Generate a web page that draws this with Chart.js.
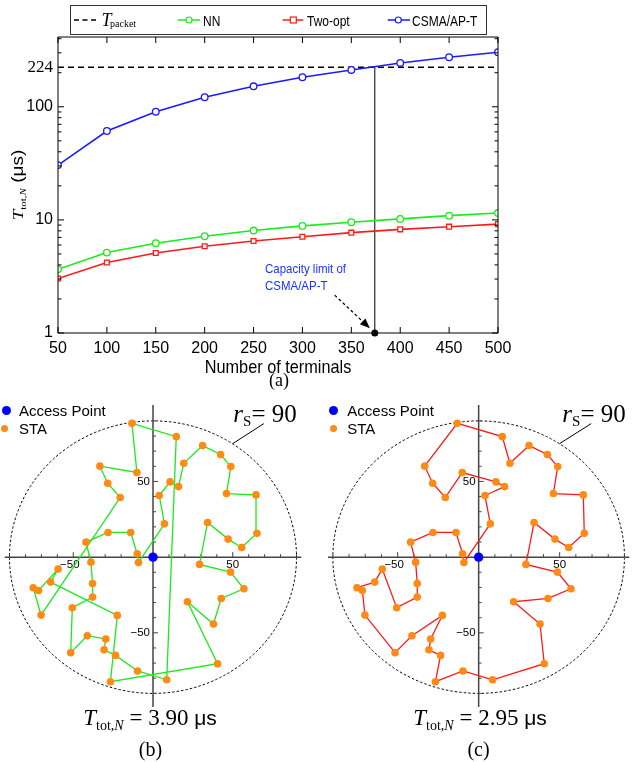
<!DOCTYPE html>
<html>
<head>
<meta charset="utf-8">
<script src="https://cdn.jsdelivr.net/npm/chart.js@4.4.1/dist/chart.umd.min.js"></script>
<style>
  body { margin: 0; background: #fff; }
  #page { position: relative; width: 634px; height: 762px; overflow: hidden; font-family: "Liberation Sans", Arial, sans-serif; color: #000; }
  canvas { position: absolute; }
  .t { position: absolute; line-height: 1; white-space: nowrap; }
  .t span { line-height: 0; }
  .serif { font-family: "Liberation Serif", "Times New Roman", serif; }
  .it { font-style: italic; }
  .dot { position: absolute; border-radius: 50%; }
</style>
</head>
<body>
<div id="page">
  <canvas id="chartA" width="634" height="390" style="left:0;top:0"></canvas>
  <canvas id="chartB" width="314" height="367" style="left:0;top:395px"></canvas>
  <canvas id="chartC" width="320" height="367" style="left:314px;top:395px"></canvas>

  <!-- legend of (a) -->
  <div style="position:absolute;left:70px;top:5px;width:415px;height:28px;border:1px solid #333;"></div>
  <svg style="position:absolute;left:0;top:0" width="634" height="40">
    <line x1="74" y1="20" x2="97" y2="20" stroke="#000" stroke-width="1.5" stroke-dasharray="5 3.5"/>
    <line x1="177.7" y1="20" x2="200" y2="20" stroke="#1aeb1a" stroke-width="1.5"/>
    <circle cx="189" cy="20" r="3" fill="#fff" stroke="#1aeb1a" stroke-width="1.2"/>
    <line x1="282.7" y1="20" x2="303.3" y2="20" stroke="#ff1a1a" stroke-width="1.5"/>
    <rect x="290.3" y="17" width="6" height="6" fill="#fff" stroke="#ff1a1a" stroke-width="1.2"/>
    <line x1="387.7" y1="20" x2="410" y2="20" stroke="#1a1aff" stroke-width="1.5"/>
    <circle cx="398.3" cy="20" r="3" fill="#fff" stroke="#1a1aff" stroke-width="1.2"/>
  </svg>
  <div class="t serif it" style="left:101.5px;top:11.4px;font-size:18px;">T</div>
  <div class="t serif" style="left:110px;top:19.1px;font-size:10px;">packet</div>
  <div class="t" style="left:203px;top:13px;font-size:15px;transform:scaleX(0.8);transform-origin:0 0;">NN</div>
  <div class="t" style="left:306.7px;top:13px;font-size:15px;transform:scaleX(0.8);transform-origin:0 0;">Two-opt</div>
  <div class="t" style="left:412.3px;top:13px;font-size:15px;transform:scaleX(0.8);transform-origin:0 0;">CSMA/AP-T</div>

  <!-- titles of (a) -->
  <div class="t" style="left:-21px;top:174px;width:80px;height:22px;line-height:22px;text-align:center;transform:rotate(-90deg) scaleY(0.82);transform-origin:50% 50%;">
    <span class="serif it" style="font-size:19px;">T</span><span class="serif" style="font-size:11px;vertical-align:-3px;">tot,<i>N</i></span><span style="font-size:19px;"> (μs)</span>
  </div>
  <div class="t" style="left:128px;top:358px;width:300px;text-align:center;font-size:18.5px;transform:scaleX(0.88);">Number of terminals</div>
  <div class="t serif" style="left:229px;top:371px;width:100px;text-align:center;font-size:18px;">(a)</div>
  <div class="t" style="left:265px;top:261px;font-size:13.5px;line-height:16.7px;color:#1a33ff;transform:scaleX(0.85);transform-origin:0 0;">Capacity limit of<br>CSMA/AP-T</div>

  <!-- legends of (b) and (c) -->
  <div class="dot" style="left:1.5px;top:406.2px;width:9px;height:9px;background:#0000ff;"></div>
  <div class="dot" style="left:0.8px;top:424.8px;width:7px;height:7px;background:#ff8a14;"></div>
  <div class="t" style="left:19px;top:403px;font-size:15px;">Access Point</div>
  <div class="t" style="left:19px;top:420.6px;font-size:15px;">STA</div>
  <div class="dot" style="left:328.8px;top:406.2px;width:9px;height:9px;background:#0000ff;"></div>
  <div class="dot" style="left:329.8px;top:424.8px;width:7px;height:7px;background:#ff8a14;"></div>
  <div class="t" style="left:347.3px;top:403px;font-size:15px;">Access Point</div>
  <div class="t" style="left:347.3px;top:420.6px;font-size:15px;">STA</div>

  <div class="t serif" style="left:233.3px;top:400.8px;font-size:25px;"><i>r</i><span style="font-size:15px;vertical-align:-4px;">S</span>= 90</div>
  <div class="t serif" style="left:562.3px;top:400.8px;font-size:25px;"><i>r</i><span style="font-size:15px;vertical-align:-4px;">S</span>= 90</div>

  <!-- captions of (b) and (c) -->
  <div class="t serif" style="left:0;top:706.4px;width:300px;text-align:center;font-size:23px;">
    <i>T</i><span style="font-size:14px;vertical-align:-5px;">tot,<i>N</i></span> = 3.90 <span style="font-family:'Liberation Sans',Arial,sans-serif;font-size:21px;">μs</span>
  </div>
  <div class="t serif" style="left:0;top:738.8px;width:301px;text-align:center;font-size:20px;">(b)</div>
  <div class="t serif" style="left:330px;top:706.4px;width:300px;text-align:center;font-size:23px;">
    <i>T</i><span style="font-size:14px;vertical-align:-5px;">tot,<i>N</i></span> = 2.95 <span style="font-family:'Liberation Sans',Arial,sans-serif;font-size:21px;">μs</span>
  </div>
  <div class="t serif" style="left:328px;top:738.8px;width:301px;text-align:center;font-size:20px;">(c)</div>
</div>

<script>
// (a) total time vs number of terminals
const terminals = [50, 100, 150, 200, 250, 300, 350, 400, 450, 500];
const nnTime = [3.66, 5.14, 6.22, 7.17, 8.05, 8.85, 9.54, 10.2, 10.9, 11.5];
const twoOptTime = [3.03, 4.2, 5.1, 5.84, 6.5, 7.1, 7.71, 8.25, 8.71, 9.18];
const csmaTime = [30.5, 61.1, 90.5, 121.4, 151.8, 182.5, 211.6, 244.2, 274.2, 303.6];
const packetTime = 224;
const capacityLimit = 374;
const yTickValues = [1, 2, 3, 4, 5, 6, 7, 8, 9, 10, 20, 30, 40, 50, 60, 70, 80, 90, 100, 200, 224, 300, 400];
const yTickLabels = [1, 10, 100, 224];
const arrowStart = [333, 2.16];
const arrowEnd = [369, 1.1];

// (b), (c) station layout and tours
const apPosition = [0, 0];
const staX = [-13.2, 14.6, -10.1, -33.3, -28.4, -20.6, -42.0, -28.2, -14.0, -9.9,
              -9.1, -38.9, -59.5, 7.2, 3.9, 10.7, 16.0, 19.3, 31.1, 42.4,
              48.8, 46.1, 64.6, 65.2, 55.6, 47.1, 34.2, 29.2, 48.6, -64.2,
              -75.1, -71.8, -70.2, -37.9, -37.9, -50.6, -51.6, -41.2, -29.6, -30.7,
              -23.5, -9.7, 8.6, -26.7, -22.4, 40.5, 21.6, 37.9, 42.8, 57.0];
const staY = [88.4, 79.6, 55.9, 60.1, 48.8, 39.4, 9.9, 16.3, 16.3, 2.2,
              -3.5, -3.3, -7.9, 22.0, 40.7, 49.7, 46.6, 62.0, 73.7, 67.8,
              59.8, 42.0, 41.1, 15.8, 6.4, 11.9, 22.9, -4.8, -9.9, -16.5,
              -20.2, -22.0, -38.3, -17.4, -26.4, -33.4, -63.1, -51.9, -54.1, -61.2,
              -64.9, -75.2, -81.0, -82.3, -38.5, -70.4, -29.5, -44.2, -27.3, -20.9];
const nnTour = [13, 10, 9, 8, 7, 6, 11, 33, 34, 35, 36, 37, 38, 39, 40, 41, 42, 1, 0, 2,
                3, 4, 5, 32, 30, 31, 12, 29, 44, 43, 45, 46, 47, 48, 49, 28, 27, 26, 25, 24,
                23, 22, 21, 20, 19, 18, 17, 16, 15, 14];
const twoOptTour = [36, 32, 31, 30, 29, 12, 35, 34, 33, 11, 6, 7, 8, 9, 10, 13, 14, 16, 15, 2,
                    5, 4, 3, 0, 1, 17, 18, 19, 20, 21, 22, 23, 24, 25, 26, 27, 28, 49, 48, 46,
                    47, 45, 42, 41, 43, 40, 39, 38, 44, 37];
const serviceRadius = 90;
const axisTicks = [-90, -80, -70, -60, -50, -40, -30, -20, -10, 10, 20, 30, 40, 50, 60, 70, 80, 90];
const axisLabels = [-50, 50];
const rsLeader = [[50, 75], [69.5, 88.2]];

const GREEN = '#1aeb1a', RED = '#ff1a1a', BLUE = '#1a1aff';

// frame, inward ticks and the capacity arrow for (a)
const frameA = {
    id: 'frameA',
    afterDraw(chart) {
        const { ctx, chartArea: a, scales: { x, y } } = chart;
        ctx.save();
        ctx.strokeStyle = '#000';
        ctx.lineWidth = 1;
        ctx.beginPath();
        ctx.rect(a.left, a.top, a.right - a.left, a.bottom - a.top);
        terminals.forEach(t => {
            const px = x.getPixelForValue(t);
            ctx.moveTo(px, a.bottom); ctx.lineTo(px, a.bottom - 6);
            ctx.moveTo(px, a.top); ctx.lineTo(px, a.top + 6);
        });
        yTickValues.forEach(v => {
            if (v === packetTime) return;
            const py = y.getPixelForValue(v);
            const len = yTickLabels.includes(v) ? 6 : 3.5;
            ctx.moveTo(a.left, py); ctx.lineTo(a.left + len, py);
            ctx.moveTo(a.right, py); ctx.lineTo(a.right - len, py);
        });
        ctx.stroke();

        const x0 = x.getPixelForValue(arrowStart[0]), y0 = y.getPixelForValue(arrowStart[1]);
        const x1 = x.getPixelForValue(arrowEnd[0]), y1 = y.getPixelForValue(arrowEnd[1]);
        const ang = Math.atan2(y1 - y0, x1 - x0);
        const c = Math.cos(ang), s = Math.sin(ang);
        ctx.setLineDash([3, 2.5]);
        ctx.lineWidth = 1.2;
        ctx.beginPath();
        ctx.moveTo(x0, y0);
        ctx.lineTo(x1 - 7 * c, y1 - 7 * s);
        ctx.stroke();
        ctx.setLineDash([]);
        ctx.fillStyle = '#000';
        ctx.beginPath();
        ctx.moveTo(x1, y1);
        ctx.lineTo(x1 - 10 * c + 4 * s, y1 - 10 * s - 4 * c);
        ctx.lineTo(x1 - 10 * c - 4 * s, y1 - 10 * s + 4 * c);
        ctx.closePath();
        ctx.fill();
        ctx.restore();
    }
};

const series = (ys) => terminals.map((t, i) => ({ x: t, y: ys[i] }));

new Chart(document.getElementById('chartA'), {
    type: 'line',
    data: {
        datasets: [
            { label: 'CSMA/AP-T', data: series(csmaTime), borderColor: BLUE, borderWidth: 1.6,
              pointRadius: 3.3, pointBorderWidth: 1.3, pointBorderColor: BLUE, pointBackgroundColor: '#fff' },
            { label: 'Two-opt', data: series(twoOptTime), borderColor: RED, borderWidth: 1.6, pointStyle: 'rect',
              pointRadius: 3.4, pointBorderWidth: 1.3, pointBorderColor: RED, pointBackgroundColor: '#fff' },
            { label: 'NN', data: series(nnTime), borderColor: GREEN, borderWidth: 1.6,
              pointRadius: 3.3, pointBorderWidth: 1.3, pointBorderColor: GREEN, pointBackgroundColor: '#fff' },
            { label: 'T_packet', data: [{ x: terminals[0], y: packetTime }, { x: terminals[terminals.length - 1], y: packetTime }],
              borderColor: '#000', borderWidth: 1.5, borderDash: [6, 4], pointRadius: 0 },
            { label: 'capacity', data: [{ x: capacityLimit, y: 1 }, { x: capacityLimit, y: packetTime }],
              borderColor: '#000', borderWidth: 1, clip: false,
              pointRadius: [3.5, 0], pointBackgroundColor: '#000', pointBorderWidth: 0 }
        ]
    },
    options: {
        responsive: false,
        animation: false,
        layout: { padding: { left: 0, top: 37, right: 136, bottom: 0 } },
        plugins: { legend: { display: false }, tooltip: { enabled: false } },
        scales: {
            x: {
                type: 'linear', min: 50, max: 500,
                grid: { display: false, drawTicks: false },
                border: { display: false },
                ticks: { stepSize: 50, autoSkip: false, maxRotation: 0, padding: 6, color: '#000',
                         font: { family: 'Liberation Sans', size: 16 } },
                afterFit(s) { s.height = 57; }
            },
            y: {
                type: 'logarithmic', min: 1, max: 414,
                grid: { display: false, drawTicks: false },
                border: { display: false },
                afterBuildTicks(s) { s.ticks = yTickValues.map(v => ({ value: v })); },
                ticks: {
                    autoSkip: false, padding: 5, color: '#000',
                    callback: (v) => yTickLabels.includes(v) ? String(v) : '',
                    font: (c) => (c.tick && c.tick.value === packetTime)
                        ? { family: 'Liberation Serif', size: 17 }
                        : { family: 'Liberation Sans', size: 16 }
                },
                afterFit(s) { s.width = 58; }
            }
        }
    },
    plugins: [frameA]
});

// circle, axes through the access point and the r_S leader for (b) and (c)
const polarAxes = {
    id: 'polarAxes',
    beforeDatasetsDraw(chart) {
        const { ctx, chartArea: a, scales: { x, y } } = chart;
        const x0 = x.getPixelForValue(0), y0 = y.getPixelForValue(0);
        ctx.save();
        ctx.strokeStyle = '#000';
        ctx.lineWidth = 1;
        ctx.setLineDash([2.5, 2]);
        ctx.beginPath();
        ctx.ellipse(x0, y0, x.getPixelForValue(serviceRadius) - x0, y0 - y.getPixelForValue(serviceRadius), 0, 0, 2 * Math.PI);
        ctx.stroke();
        ctx.setLineDash([]);

        ctx.beginPath();
        ctx.moveTo(x.getPixelForValue(rsLeader[0][0]), y.getPixelForValue(rsLeader[0][1]));
        ctx.lineTo(x.getPixelForValue(rsLeader[1][0]), y.getPixelForValue(rsLeader[1][1]));
        ctx.stroke();

        ctx.strokeStyle = '#444';
        ctx.lineWidth = 1.5;
        ctx.beginPath();
        ctx.moveTo(a.left, y0); ctx.lineTo(a.right, y0);
        ctx.moveTo(x0, a.top); ctx.lineTo(x0, a.bottom);
        ctx.stroke();

        ctx.lineWidth = 1;
        ctx.beginPath();
        axisTicks.forEach(v => {
            const len = axisLabels.includes(v) ? 5 : 3;
            const px = x.getPixelForValue(v), py = y.getPixelForValue(v);
            ctx.moveTo(px, y0); ctx.lineTo(px, y0 - len);
            ctx.moveTo(x0, py); ctx.lineTo(x0 + len, py);
        });
        ctx.stroke();

        ctx.fillStyle = '#000';
        ctx.font = '11.5px "Liberation Sans"';
        ctx.textBaseline = 'middle';
        axisLabels.forEach(v => {
            const txt = v < 0 ? '\u2212' + Math.abs(v) : String(v);
            ctx.textAlign = 'center';
            ctx.fillText(txt, x.getPixelForValue(v) + (v < 0 ? -3.5 : 0), y0 + 8);
            ctx.textAlign = 'right';
            ctx.fillText(txt, x0 - 3, y.getPixelForValue(v));
        });
        ctx.restore();
    }
};

function tourChart(id, tour, color, padding) {
    const path = tour.concat(tour[0]).map(i => ({ x: staX[i], y: staY[i] }));
    return new Chart(document.getElementById(id), {
        type: 'scatter',
        data: {
            datasets: [
                { label: 'Access Point', data: [{ x: apPosition[0], y: apPosition[1] }],
                  pointRadius: 4.7, backgroundColor: '#0000ff', borderWidth: 0 },
                { label: 'STA', data: staX.map((v, i) => ({ x: v, y: staY[i] })),
                  pointRadius: 3.8, backgroundColor: '#ff8a14', borderWidth: 0 },
                { label: 'tour', data: path, showLine: true, pointRadius: 0,
                  borderColor: color, borderWidth: 1.3 }
            ]
        },
        options: {
            responsive: false,
            animation: false,
            layout: { padding },
            plugins: { legend: { display: false }, tooltip: { enabled: false } },
            scales: {
                x: { type: 'linear', min: -93, max: 93, display: false },
                y: { type: 'linear', min: -99, max: 100.5, display: false }
            }
        },
        plugins: [polarAxes]
    });
}

tourChart('chartB', nnTour, GREEN, { left: 0, right: 12.7, top: 10, bottom: 55 });
tourChart('chartC', twoOptTour, RED, { left: 14, right: 4.7, top: 10, bottom: 55 });
</script>
</body>
</html>
